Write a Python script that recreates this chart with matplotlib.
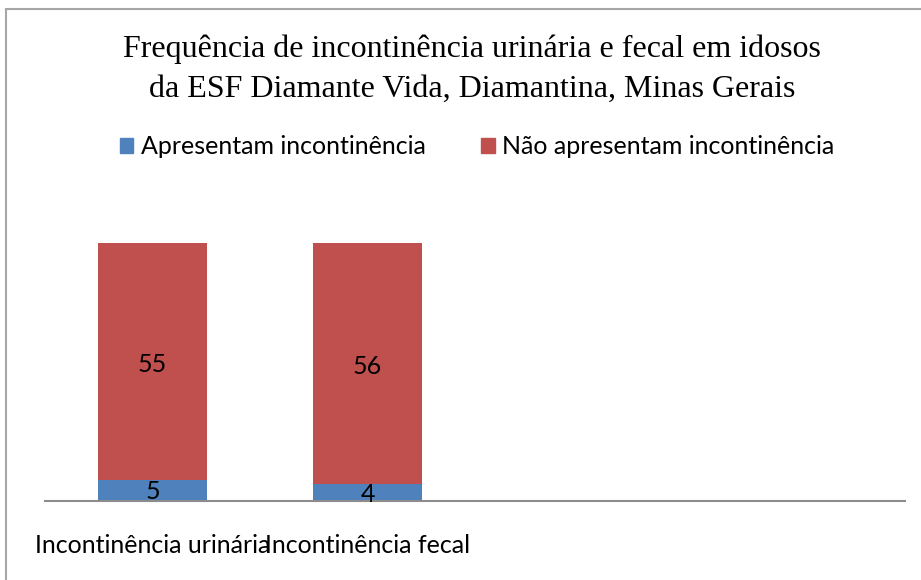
import numpy as np
import matplotlib.pyplot as plt
from matplotlib.patches import Rectangle, Patch

# dados
categorias = ['Incontinência urinária', 'Incontinência fecal', '', '']
apresentam = [5, 4]
nao_apresentam = [55, 56]

cor_azul = '#4F81BD'
cor_vermelho = '#C0504D'

W, H = 921, 580
fig = plt.figure(figsize=(W / 100, H / 100), dpi=100)

# moldura cinza do grafico
fig.patches.append(Rectangle((6 / W, -0.1), 1.2, 1 - 9 / H + 0.1,
                             transform=fig.transFigure, fill=False,
                             edgecolor='#A6A6A6', linewidth=1.5))

ax = fig.add_axes([45 / W, 1 - 501 / H, 860 / W, 301 / H])
x = np.arange(len(apresentam))
ax.bar(x, apresentam, width=0.51, color=cor_azul)
ax.bar(x, nao_apresentam, width=0.51, bottom=apresentam, color=cor_vermelho)

for i in range(len(x)):
    ax.text(x[i], apresentam[i] / 2 - 0.4, str(apresentam[i]), ha='center', va='center',
            fontsize=18, family='Lato')
    ax.text(x[i], apresentam[i] + nao_apresentam[i] / 2 - 0.8, str(nao_apresentam[i]),
            ha='center', va='center', fontsize=18, family='Lato')

ax.set_xlim(-0.5, len(categorias) - 0.5)
ax.set_ylim(0, 70)
for s in ['top', 'right', 'left']:
    ax.spines[s].set_visible(False)
ax.spines['bottom'].set_color('#8C8C8C')
ax.spines['bottom'].set_linewidth(1.5)
ax.set_yticks([])
ax.set_xticks(x)
ax.set_xticklabels(categorias[:2], fontsize=18, family='Lato')
ax.tick_params(axis='x', length=0, pad=24)

fig.text(472 / W, 1 - 69 / H,
         'Frequência de incontinência urinária e fecal em idosos\nda ESF Diamante Vida, Diamantina, Minas Gerais',
         ha='center', va='center', fontsize=23, family='Liberation Serif', linespacing=1.5)

fig.legend(handles=[Patch(color=cor_azul, label='Apresentam incontinência'),
                    Patch(color=cor_vermelho, label='Não apresentam incontinência')],
           loc='center', bbox_to_anchor=(477 / W, 1 - 147 / H), ncol=2, frameon=False,
           prop={'family': 'Lato', 'size': 18}, handlelength=0.55, handleheight=0.55,
           handletextpad=0.3, columnspacing=2.2)

fig.savefig('out.png', dpi=100)
